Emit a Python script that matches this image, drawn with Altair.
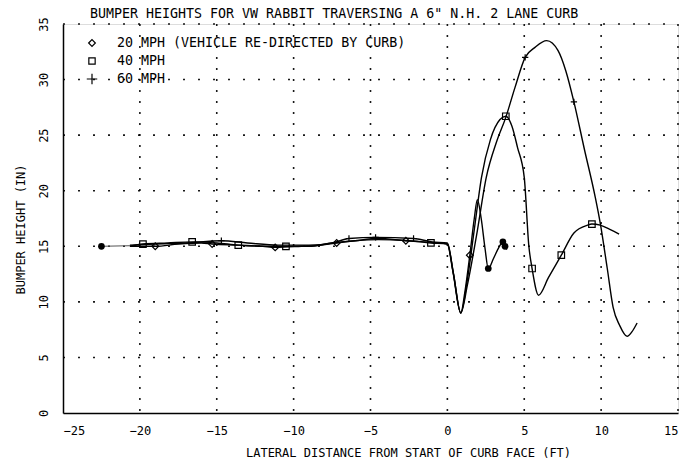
import altair as alt
import pandas as pd

# ---- data ----
lead_x = [-22.5, -20.65]
lead_y = [15.0, 15.05]

x20 = [-20.65, -19.0, -17.5, -16.0, -15.3, -13.5, -12.0, -11.2, -9.5, -8.2, -7.2, -6.0, -4.5, -2.7, -1.5, -0.5, 0.0,
       0.35, 0.87, 1.15, 1.46, 1.75, 1.95, 2.2, 2.45, 2.66, 3.0, 3.35, 3.61, 3.86]
y20 = [15.0, 15.0, 15.2, 15.3, 15.2, 15.1, 15.0, 14.9, 15.0, 15.1, 15.3, 15.5, 15.7, 15.5, 15.4, 15.3, 15.2,
       12.8, 9.0, 11.0, 14.2, 17.5, 19.2, 17.5, 14.8, 13.0, 13.9, 14.9, 15.4, 14.7]

x40 = [-20.65, -19.8, -18.2, -16.6, -15.0, -13.6, -12.0, -10.5, -9.0, -7.5, -6.0, -4.5, -2.5, -1.07, 0.0,
       0.4, 0.87, 1.3, 1.75, 2.22, 2.8, 3.42, 3.8, 4.2, 4.56, 5.0, 5.3, 5.51, 5.93, 6.58, 7.41, 8.23, 9.11,
       9.4, 9.94, 10.6, 11.17]
y40 = [15.0, 15.2, 15.3, 15.4, 15.3, 15.1, 15.0, 15.0, 15.0, 15.3, 15.5, 15.6, 15.5, 15.3, 15.2,
       12.5, 9.0, 12.0, 16.5, 21.2, 24.6, 26.4, 26.7, 25.8, 23.9, 21.2, 15.0, 13.0, 10.6, 12.2, 14.2, 16.2, 16.9,
       17.0, 16.9, 16.5, 16.1]

x60 = [-20.65, -19.0, -17.0, -14.7, -13.0, -11.0, -9.0, -7.5, -6.4, -4.67, -2.2, -1.0, 0.0, 0.4, 0.87, 1.3,
       1.9, 2.53, 3.2, 3.8, 4.4, 5.06, 5.7, 6.46, 7.2, 7.7, 8.23, 8.9, 9.62, 9.94, 10.4, 10.78, 11.2, 11.69,
       12.0, 12.34]
y60 = [15.1, 15.2, 15.3, 15.5, 15.3, 15.1, 15.1, 15.3, 15.7, 15.8, 15.7, 15.4, 15.3, 12.5, 9.0, 11.5,
       16.0, 21.2, 24.4, 26.6, 29.3, 32.0, 32.9, 33.5, 32.6, 30.8, 28.0, 23.8, 19.4, 17.1, 13.0, 9.5, 7.9, 6.9,
       7.3, 8.1]

# marker positions
mx20 = [-19.0, -15.3, -11.2, -7.2, -2.7, 1.46]
my20 = [15.0, 15.2, 14.9, 15.3, 15.5, 14.2]
mx40 = [-19.8, -16.6, -13.6, -10.5, -1.07, 3.8, 5.51, 7.41, 9.4]
my40 = [15.2, 15.4, 15.1, 15.0, 15.3, 26.7, 13.0, 14.2, 17.0]
mx60 = [-14.7, -6.4, -4.67, -2.2, 5.06, 8.23]
my60 = [15.5, 15.7, 15.8, 15.7, 32.0, 28.0]

# filled points (start dot and end of the 20 MPH run)
fx = [-22.5, 2.66, 3.61, 3.75]
fy = [15.0, 13.0, 15.4, 15.0]

series_names = ["20 MPH", "40 MPH", "60 MPH"]
legend_labels = ["20 MPH (VEHICLE RE-DIRECTED BY CURB)", "40 MPH", "60 MPH"]
x_ticks = [-25, -20, -15, -10, -5, 0, 5, 10, 15]
y_ticks = [0, 5, 10, 15, 20, 25, 30, 35]
title_text = "BUMPER HEIGHTS FOR VW RABBIT TRAVERSING A 6\" N.H. 2 LANE CURB"
x_title = "LATERAL DISTANCE FROM START OF CURB FACE (FT)"
y_title = "BUMPER HEIGHT (IN)"

# ---- tables ----
def tbl(name, xs, ys):
    return pd.DataFrame({"series": name, "x": xs, "y": ys, "order": range(len(xs))})

lines_df = pd.concat([tbl(series_names[0], x20, y20), tbl(series_names[1], x40, y40),
                      tbl(series_names[2], x60, y60)], ignore_index=True)
marks_df = pd.concat([tbl(series_names[0], mx20, my20), tbl(series_names[1], mx40, my40),
                      tbl(series_names[2], mx60, my60)], ignore_index=True)
lead_df = pd.DataFrame({"x": lead_x, "y": lead_y})
filled_df = pd.DataFrame({"x": fx, "y": fy})
gx_df = pd.DataFrame({"x": x_ticks[1:]})
gy_df = pd.DataFrame({"y": y_ticks[1:]})

FONT = "DejaVu Sans Mono"
CROSS = "M-1,0L1,0M0,-1L0,1"

xscale = alt.Scale(domain=[-25, 15], nice=False, zero=False)
yscale = alt.Scale(domain=[0, 35], nice=False, zero=False)

xaxis = alt.Axis(values=x_ticks, title=x_title, format="d", grid=False, ticks=False,
                 domainColor="black", domainWidth=1.5,
                 labelFont=FONT, labelFontSize=12, labelColor="black", labelPadding=12,
                 titleFont=FONT, titleFontSize=12, titleFontWeight="normal", titleColor="black",
                 titleX=345, titleY=39, titleBaseline="middle", titleAlign="center")
yaxis = alt.Axis(values=y_ticks, title=y_title, format="d", grid=False, ticks=False,
                 domainColor="black", domainWidth=1.5,
                 labelFont=FONT, labelFontSize=12, labelColor="black", labelAngle=270, labelAlign="center",
                 labelBaseline="bottom", labelPadding=13,
                 titleFont=FONT, titleFontSize=12, titleFontWeight="normal", titleColor="black",
                 titleX=-43, titleY=205, titleAngle=270, titleBaseline="middle", titleAlign="center")

X = alt.X("x:Q", scale=xscale, axis=xaxis)
Y = alt.Y("y:Q", scale=yscale, axis=yaxis)

grid_v = alt.Chart(gx_df).mark_rule(color="black", strokeDash=[2, 9], strokeWidth=1.6, opacity=0.9).encode(
    x=X, y=alt.value(0), y2=alt.value(389))
grid_h = alt.Chart(gy_df).mark_rule(color="black", strokeDash=[2, 13], strokeWidth=1.6, opacity=0.9).encode(
    y=Y, x=alt.value(0), x2=alt.value(615))

lines = alt.Chart(lines_df).mark_line(interpolate="monotone", color="black", strokeWidth=1.4).encode(
    x=X, y=Y, detail="series:N", order="order:Q")
lead = alt.Chart(lead_df).mark_line(color="#555555", strokeWidth=1).encode(x=X, y=Y)
markers = alt.Chart(marks_df).mark_point(filled=False, color="black", strokeWidth=1.2, opacity=1).encode(
    x=X, y=Y,
    shape=alt.Shape("series:N", scale=alt.Scale(domain=series_names, range=["diamond", "square", CROSS]),
                    legend=None),
    size=alt.Size("series:N", scale=alt.Scale(domain=series_names, range=[45, 40, 90]), legend=None))
filled = alt.Chart(filled_df).mark_point(filled=True, color="black", size=45, opacity=1).encode(x=X, y=Y)

one = pd.DataFrame({"a": [0]})
title = alt.Chart(one).mark_text(text=title_text, font=FONT, fontSize=13.3, align="left", baseline="middle",
                                 color="black").encode(x=alt.value(27), y=alt.value(-10))

legend_layers = []
legend_rows_y = [19, 37, 55]
legend_shapes = ["diamond", "square", CROSS]
legend_sizes = [45, 40, 110]
for i in range(3):
    legend_layers.append(alt.Chart(one).mark_point(shape=legend_shapes[i], size=legend_sizes[i], filled=False,
                                                   color="black", strokeWidth=1.2, opacity=1).encode(
        x=alt.value(29), y=alt.value(legend_rows_y[i])))
    legend_layers.append(alt.Chart(one).mark_text(text=legend_labels[i], font=FONT, fontSize=13.3, align="left",
                                                  baseline="middle", color="black").encode(
        x=alt.value(54), y=alt.value(legend_rows_y[i])))

chart = alt.layer(grid_v, grid_h, lines, lead, markers, filled, title, *legend_layers).properties(
    width=615, height=389, autosize="none",
    padding={"left": 63, "top": 24, "right": 18, "bottom": 54},
).configure_view(stroke=None).configure(background="white")

chart.save("out.html", embed_options={"renderer": "svg", "actions": False})
